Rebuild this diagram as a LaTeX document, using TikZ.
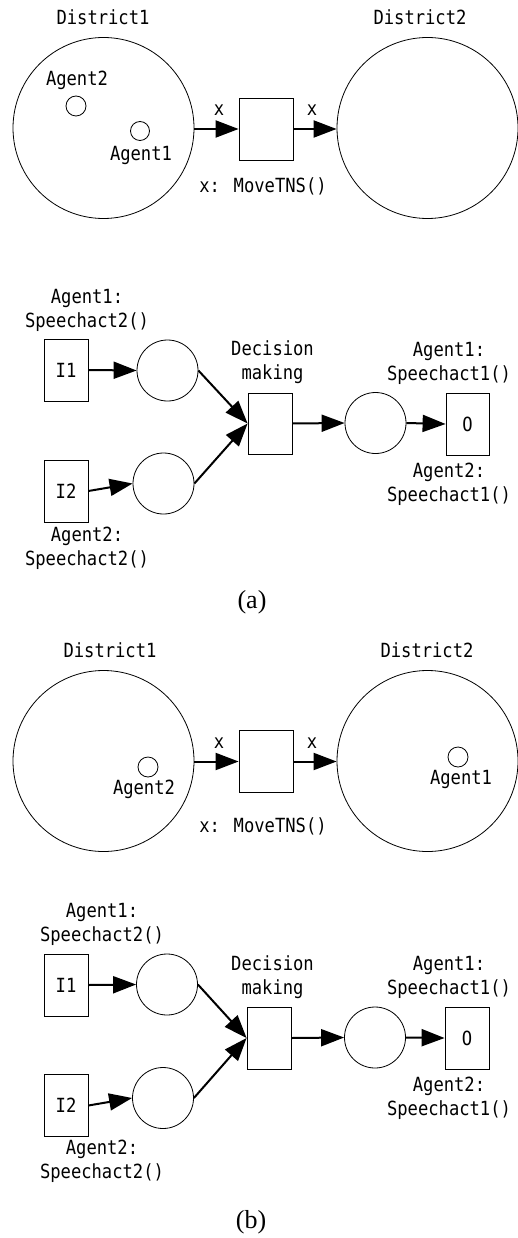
\documentclass[tikz,border=0pt]{standalone}
\usepackage{fontspec}
\usetikzlibrary{arrows.meta}
\newfontfamily\lblfont[FakeStretch=0.88]{DejaVu Sans Mono}
\newfontfamily\capfont{Liberation Serif}
\begin{document}
\begin{tikzpicture}[x=1pt,y=-1pt,
  txt/.style={font=\lblfont\fontsize{19.5}{24}\selectfont, align=center, inner sep=0pt},
  captxt/.style={font=\capfont\fontsize{26}{30}\selectfont, inner sep=0pt},
  district/.style={circle, draw, line width=0.8pt, minimum size=181pt, inner sep=0pt},
  token/.style={circle, draw, line width=0.8pt, minimum size=20pt, inner sep=0pt},
  place/.style={circle, draw, line width=0.8pt, minimum size=61pt, inner sep=0pt},
  trans/.style={rectangle, draw, line width=0.8pt, minimum width=44pt, minimum height=62pt, inner sep=0pt, font=\lblfont\fontsize{19.5}{24}\selectfont},
  wtrans/.style={trans, minimum width=54pt},
  arr/.style={line width=2pt, -{Triangle[length=23pt,width=17pt]}}
]
\useasboundingbox (0,0) rectangle (518,1238);

% ===== Panel (a), top =====
\node[txt] (aD1l) at (103,17) {District1};
\node[txt] (aD2l) at (420,17) {District2};
\node[district] (aD1) at (103.5,128) {};
\node[district] (aD2) at (427.5,128) {};
\node[token] (aA2) at (76,106) {};
\node[txt] (aA2l) at (77,80) {Agent2};
\node[token, minimum size=19pt] (aA1) at (140,131) {};
\node[txt] (aA1l) at (141,155) {Agent1};
\node[wtrans] (aT) at (266,129) {};
\node[txt] (aTl) at (263,186) {x: MoveTNS()};
\draw[arr] (aD1.east |- aT.west) -- (aT.west);
\draw[arr] (aT.east) -- (aD2.west |- aT.east);
\node[txt] (ax1) at (219,110) {x};
\node[txt] (ax2) at (312,110) {x};

% ===== Panel (a), bottom =====
\node[txt] (aL1) at (87,310) {Agent1:\\Speechact2()};
\node[trans] (aI1) at (66,370) {I1};
\node[place] (aP1) at (167.5,370.5) {};
\node[txt] (aDMl) at (272.5,362.5) {Decision\\making};
\node[trans, minimum height=61pt] (aDM) at (270,423.5) {};
\node[place] (aP3) at (375.5,423) {};
\node[trans, minimum width=43pt] (aO) at (467.5,424) {O};
\node[txt] (aR1) at (449,363) {Agent1:\\Speechact1()};
\node[txt] (aR2) at (449,484) {Agent2:\\Speechact1()};
\node[trans] (aI2) at (66,491) {I2};
\node[place] (aP2) at (163.5,483.5) {};
\node[txt] (aL2) at (87,548.5) {Agent2:\\Speechact2()};
\draw[arr] (aI1.east) -- (aP1.west);
\draw[arr] (aI2.east) -- (aP2.west);
\draw[arr] (aP1.east) -- (aDM.west);
\draw[arr] (aP2.east) -- (aDM.west);
\draw[arr] (aDM.east) -- (aP3.west);
\draw[arr] (aP3.east) -- (aO.west);
\node[captxt] (capa) at (252,602) {(a)};

% ===== Panel (b), top =====
\node[txt] (bD1l) at (110,650) {District1};
\node[txt] (bD2l) at (427,650) {District2};
\node[district] (bD1) at (103.5,761) {};
\node[district] (bD2) at (427.5,761) {};
\node[token] (bA2) at (148,767) {};
\node[txt] (bA2l) at (144,789) {Agent2};
\node[token] (bA1) at (458,757) {};
\node[txt] (bA1l) at (461,779) {Agent1};
\node[wtrans] (bT) at (266,761.5) {};
\node[txt] (bTl) at (263,826) {x: MoveTNS()};
\draw[arr] (bD1.east |- bT.west) -- (bT.west);
\draw[arr] (bT.east) -- (bD2.west |- bT.east);
\node[txt] (bx1) at (219,743) {x};
\node[txt] (bx2) at (312,743) {x};

% ===== Panel (b), bottom =====
\node[txt] (bL1) at (102,924.5) {Agent1:\\Speechact2()};
\node[trans] (bI1) at (66,985) {I1};
\node[place] (bP1) at (167,984.5) {};
\node[txt] (bDMl) at (272.5,977) {Decision\\making};
\node[trans] (bDM) at (269,1038) {};
\node[place] (bP3) at (375,1037.5) {};
\node[trans] (bO) at (467,1038) {O};
\node[txt] (bR1) at (449,977) {Agent1:\\Speechact1()};
\node[txt] (bR2) at (449,1098.5) {Agent2:\\Speechact1()};
\node[trans] (bI2) at (66,1105.5) {I2};
\node[place] (bP2) at (163,1098) {};
\node[txt] (bL2) at (102,1161.5) {Agent2:\\Speechact2()};
\draw[arr] (bI1.east) -- (bP1.west);
\draw[arr] (bI2.east) -- (bP2.west);
\draw[arr] (bP1.east) -- (bDM.west);
\draw[arr] (bP2.east) -- (bDM.west);
\draw[arr] (bDM.east) -- (bP3.west);
\draw[arr] (bP3.east) -- (bO.west);
\node[captxt] (capb) at (251,1222) {(b)};
\end{tikzpicture}
\end{document}
